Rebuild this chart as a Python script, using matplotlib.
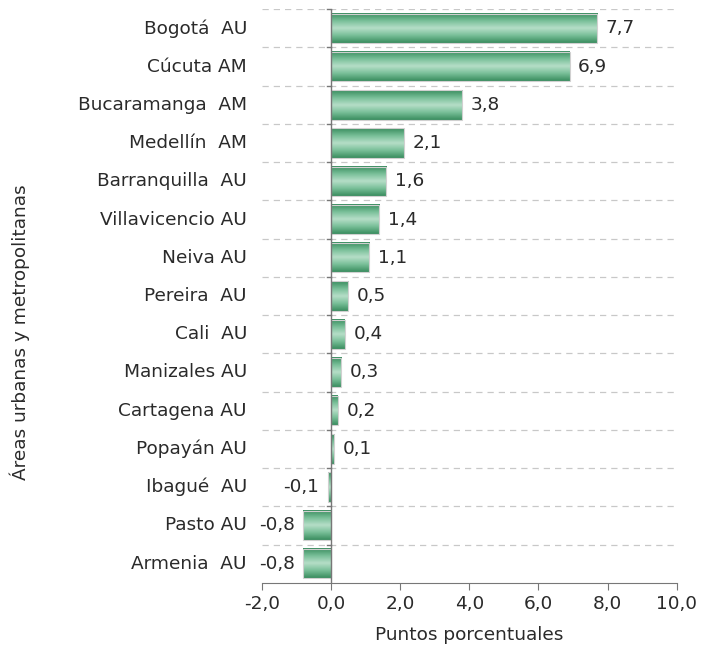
import numpy as np
import matplotlib
matplotlib.use("Agg")
import matplotlib.pyplot as plt
from matplotlib.colors import LinearSegmentedColormap

plt.rcParams["font.family"] = ["DejaVu Sans"]

areas = ["Bogotá  AU", "Cúcuta AM", "Bucaramanga  AM", "Medellín  AM", "Barranquilla  AU",
         "Villavicencio AU", "Neiva AU", "Pereira  AU", "Cali  AU", "Manizales AU",
         "Cartagena AU", "Popayán AU", "Ibagué  AU", "Pasto AU", "Armenia  AU"]
values = [7.7, 6.9, 3.8, 2.1, 1.6, 1.4, 1.1, 0.5, 0.4, 0.3, 0.2, 0.1, -0.1, -0.8, -0.8]
xticks = [-2, 0, 2, 4, 6, 8, 10]

TXT = "#2a2a2a"
FS = 13.3
cmap = LinearSegmentedColormap.from_list("g", ["#3a8d5f", "#78bf98", "#b6dec8", "#78bf98", "#3a8d5f"])
grad = np.linspace(0, 1, 64).reshape(-1, 1)

fig = plt.figure(figsize=(7.02, 6.6), dpi=100)
ax = fig.add_axes([0.373, 0.117, 0.591, 0.869])

n = len(areas)
ys = np.arange(n)
h = 0.77
for y, v in zip(ys, values):
    x0, x1 = min(0, v), max(0, v)
    ax.imshow(grad, cmap=cmap, aspect="auto", extent=(x0, x1, y + h / 2, y - h / 2),
              interpolation="bicubic", zorder=2)
    ax.add_patch(plt.Rectangle((x0, y - h / 2), x1 - x0, h, fill=False,
                               ec="#d0d0d0", lw=0.8, zorder=3))
    lab = f"{v:.1f}".replace(".", ",")
    if v >= 0:
        ax.text(v + 0.25, y, lab, va="center", ha="left", fontsize=FS, color=TXT)
    else:
        ax.text(v - 0.25, y, lab, va="center", ha="right", fontsize=FS, color=TXT)

# category boundaries: dashed grid
for b in np.arange(-0.5, n - 0.5, 1.0):
    ax.axhline(b, color="#c8c8c8", ls=(0, (5, 4)), lw=0.9, zorder=1)

ax.set_xlim(-2, 10)
ax.set_ylim(n - 0.5, -0.5)
ax.set_xticks(xticks)
ax.set_xticklabels([f"{t:.1f}".replace(".", ",") for t in xticks], fontsize=FS, color=TXT)
ax.set_yticks([])

for s in ["top", "right", "left"]:
    ax.spines[s].set_visible(False)
ax.spines["bottom"].set_color("#777777")
ax.tick_params(axis="x", length=5, color="#777777", pad=4)
ax.axvline(0, color="#777777", lw=1.0, zorder=4)
for b in np.arange(-0.5, n - 0.5, 1.0):
    ax.plot([-0.12, 0], [b, b], color="#777777", lw=1.0, zorder=4, clip_on=False)

for y, name in zip(ys, areas):
    ax.text(-0.036, y, name, transform=ax.get_yaxis_transform(), ha="right", va="center",
            fontsize=FS, color=TXT)

ax.set_xlabel("Puntos porcentuales", fontsize=FS, color=TXT, labelpad=9)
fig.text(0.028, 0.497, "Áreas urbanas y metropolitanas", rotation=90, ha="center", va="center",
         fontsize=FS, color=TXT)

fig.savefig("out.png", dpi=100)
